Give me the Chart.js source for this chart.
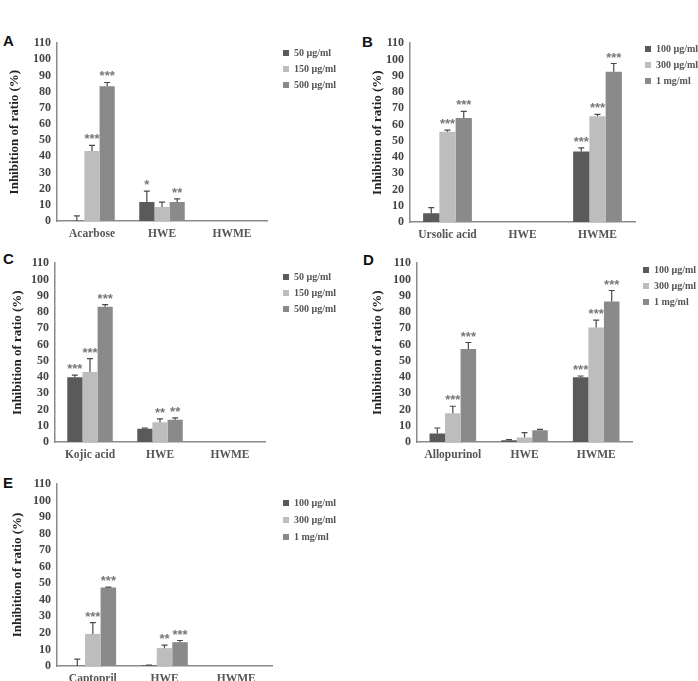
<!DOCTYPE html>
<html lang="en">
<head>
<meta charset="UTF-8">
<title>Inhibition of ratio</title>
<script src="https://cdn.jsdelivr.net/npm/chart.js"></script>
<style>
  body { margin: 0; width: 698px; height: 681px; overflow: hidden; background: #fff; position: relative; }
  canvas { position: absolute; }
  .tag { position: absolute; font: bold 15px 'Liberation Sans', Arial, sans-serif; color: #111; }
</style>
</head>
<body>
<div class="tag" style="left:3px;top:32px">A</div>
<div class="tag" style="left:362px;top:33px">B</div>
<div class="tag" style="left:3px;top:250px">C</div>
<div class="tag" style="left:363px;top:251px">D</div>
<div class="tag" style="left:3px;top:474px">E</div>
<canvas id="chartA"></canvas>
<canvas id="chartB"></canvas>
<canvas id="chartC"></canvas>
<canvas id="chartD"></canvas>
<canvas id="chartE"></canvas>
<script>
// --- data (one row per concentration, columns follow the categories) ---
const yTicksMax = 110;
const yTicksStep = 10;

const catsA = ['Acarbose', 'HWE', 'HWME'];
const concA = ['50 µg/ml', '150 µg/ml', '500 µg/ml'];
const valuesA = [[0, 11.7, 0], [43.3, 8.7, 0], [83.3, 11.7, 0]];
const errorsA = [[3.2, 18.5, 0], [46.8, 11.7, 0], [85.7, 13.7, 0]];
const starsA = [['', '*', ''], ['***', '', ''], ['***', '**', '']];

const catsB = ['Ursolic acid', 'HWE', 'HWME'];
const concB = ['100 µg/ml', '300 µg/ml', '1 mg/ml'];
const valuesB = [[5.4, 0, 43.3], [55.5, 0, 65], [64, 0, 92.4]];
const errorsB = [[8.8, 0, 45.6], [56.5, 0, 66.2], [68, 0, 97.5]];
const starsB = [['', '', '***'], ['***', '', '***'], ['***', '', '***']];

const catsC = ['Kojic acid', 'HWE', 'HWME'];
const concC = ['50 µg/ml', '150 µg/ml', '500 µg/ml'];
const valuesC = [[39.8, 8.1, 0], [43, 12.2, 0], [83.2, 13.7, 0]];
const errorsC = [[41.2, 8.5, 0], [51.3, 14.2, 0], [84.5, 14.8, 0]];
const starsC = [['***', '', ''], ['***', '**', ''], ['***', '**', '']];

const catsD = ['Allopurinol', 'HWE', 'HWME'];
const concD = ['100 µg/ml', '300 µg/ml', '1 mg/ml'];
const valuesD = [[5.2, 1, 39.8], [17.7, 2.8, 70.5], [57.2, 7.2, 86.5]];
const errorsD = [[8.6, 1.5, 40.6], [22, 5.8, 75], [61.2, 7.8, 93.2]];
const starsD = [['', '', '***'], ['***', '', '***'], ['***', '', '***']];

const catsE = ['Captopril', 'HWE', 'HWME'];
const concE = ['100 µg/ml', '300 µg/ml', '1 mg/ml'];
const valuesE = [[0, 0.4, 0], [19.4, 10.8, 0], [47.4, 14.4, 0]];
const errorsE = [[4.2, 0.6, 0], [26.2, 12.6, 0], [47.7, 15.4, 0]];
const starsE = [['', '', ''], ['***', '**', ''], ['***', '***', '']];

const barColors = ['#5a5a5a', '#bdbdbd', '#8a8a8a'];
const serif = "'Liberation Serif', 'Times New Roman', serif";

// error bars (upper only) + significance stars
const errorBars = {
  id: 'errorBars',
  afterDatasetsDraw(chart) {
    const ctx = chart.ctx;
    const y = chart.scales.y;
    chart.data.datasets.forEach((ds, i) => {
      chart.getDatasetMeta(i).data.forEach((bar, j) => {
        const yTop = y.getPixelForValue(ds.errors[j]);
        ctx.save();
        if (ds.errors[j] > ds.data[j]) {
          ctx.strokeStyle = '#4a4a4a';
          ctx.lineWidth = 1.2;
          ctx.beginPath();
          ctx.moveTo(bar.x, bar.y);
          ctx.lineTo(bar.x, yTop);
          ctx.moveTo(bar.x - 3, yTop);
          ctx.lineTo(bar.x + 3, yTop);
          ctx.stroke();
        }
        if (ds.stars[j]) {
          ctx.fillStyle = '#777';
          ctx.font = "bold 13px 'Liberation Sans', Arial, sans-serif";
          ctx.textAlign = 'center';
          ctx.textBaseline = 'alphabetic';
          ctx.fillText(ds.stars[j], bar.x, Math.min(yTop, bar.y) - 2);
        }
        ctx.restore();
      });
    });
  }
};

function makePanel(id, cats, conc, values, errors, stars, box) {
  const canvas = document.getElementById(id);
  canvas.width = box.w;
  canvas.height = box.h;
  canvas.style.left = box.x + 'px';
  canvas.style.top = box.y + 'px';
  canvas.style.width = box.w + 'px';
  canvas.style.height = box.h + 'px';

  const itemH = 10;
  const legPad = box.legGap - itemH;

  // put the legend to the right of the plot, where the figure has it
  const placeLegend = {
    id: 'placeLegend',
    afterLayout(chart) {
      const lg = chart.legend;
      lg.left = box.legX - legPad;
      lg.top = box.legY - legPad - itemH / 2;
      lg.right = chart.width;
      lg.bottom = chart.height;
    }
  };

  return new Chart(canvas, {
    type: 'bar',
    data: {
      labels: cats,
      datasets: conc.map((c, i) => ({
        label: c,
        data: values[i],
        errors: errors[i],
        stars: stars[i],
        backgroundColor: barColors[i],
        borderWidth: 0,
        categoryPercentage: 0.65,
        barPercentage: 1.0
      }))
    },
    options: {
      responsive: false,
      animation: false,
      layout: { padding: { left: 0, top: box.areaT, right: box.w - box.areaR, bottom: 0 } },
      plugins: {
        tooltip: { enabled: false },
        legend: {
          position: 'chartArea',
          align: 'start',
          labels: {
            boxWidth: 6,
            boxHeight: 6,
            padding: legPad,
            color: '#555',
            font: { family: serif, weight: 'bold', size: 10 }
          }
        }
      },
      scales: {
        x: {
          grid: { display: false, drawTicks: false },
          border: { color: '#8a8a8a', width: 1.5 },
          ticks: { color: '#555', padding: 6, font: { family: serif, weight: 'bold', size: 11.5 } },
          afterFit: s => { s.height = box.h - box.areaB; }
        },
        y: {
          min: 0,
          max: yTicksMax,
          grid: { display: false, drawTicks: false },
          border: { color: '#8a8a8a', width: 1.5 },
          ticks: {
            stepSize: yTicksStep,
            autoSkip: false,
            color: '#444',
            padding: 6,
            font: { family: serif, weight: 'bold', size: 12 }
          },
          title: {
            display: true,
            text: 'Inhibition of ratio (%)',
            color: '#222',
            padding: { top: box.titlePad, bottom: 0 },
            font: { family: serif, weight: 'bold', size: 13 }
          },
          afterFit: s => { s.width = box.axisL; }
        }
      }
    },
    plugins: [errorBars, placeLegend]
  });
}

makePanel('chartA', catsA, concA, valuesA, errorsA, starsA,
  { x: 0, y: 30, w: 349, h: 221, areaT: 9, areaB: 191, axisL: 57, areaR: 267, titlePad: 7, legX: 283, legY: 23, legGap: 16 });
makePanel('chartB', catsB, concB, valuesB, errorsB, starsB,
  { x: 350, y: 30, w: 348, h: 222, areaT: 12, areaB: 192, axisL: 60, areaR: 285, titlePad: 20, legX: 295, legY: 19, legGap: 16 });
makePanel('chartC', catsC, concC, valuesC, errorsC, starsC,
  { x: 0, y: 250, w: 349, h: 222, areaT: 11, areaB: 192, axisL: 55, areaR: 265, titlePad: 10, legX: 283, legY: 27, legGap: 16 });
makePanel('chartD', catsD, concD, valuesD, errorsD, starsD,
  { x: 350, y: 250, w: 348, h: 222, areaT: 12, areaB: 192, axisL: 67, areaR: 282, titlePad: 20, legX: 293, legY: 20, legGap: 16 });
makePanel('chartE', catsE, concE, valuesE, errorsE, starsE,
  { x: 0, y: 470, w: 349, h: 226, areaT: 14, areaB: 196, axisL: 57, areaR: 272, titlePad: 10, legX: 283, legY: 33, legGap: 17 });
</script>
</body>
</html>
